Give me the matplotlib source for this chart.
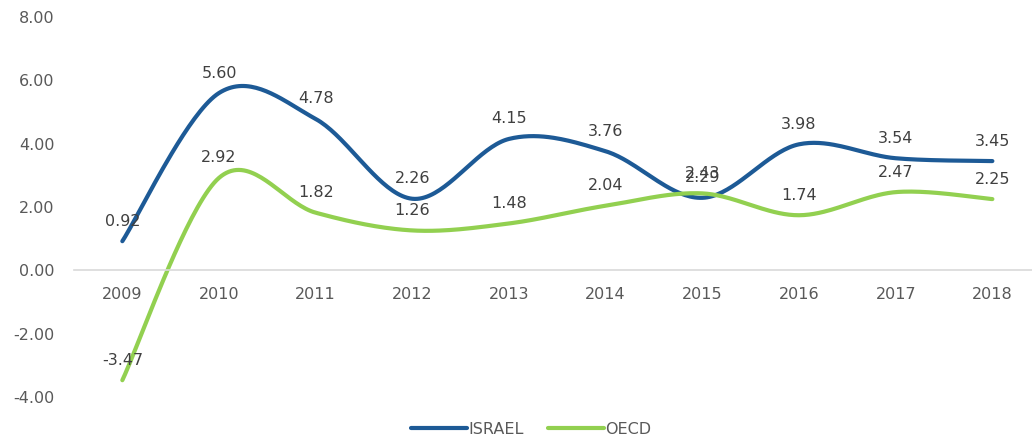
import numpy as np
import matplotlib
matplotlib.use("Agg")
import matplotlib.pyplot as plt

plt.rcParams["font.family"] = ["DejaVu Sans"]

years = ["2009", "2010", "2011", "2012", "2013", "2014", "2015", "2016", "2017", "2018"]
israel = [0.92, 5.60, 4.78, 2.26, 4.15, 3.76, 2.29, 3.98, 3.54, 3.45]
oecd = [-3.47, 2.92, 1.82, 1.26, 1.48, 2.04, 2.43, 1.74, 2.47, 2.25]

blue = "#1d5a96"
green = "#92d050"


def smooth(xs, ys, n=40):
    # excel-style smoothed line (catmull-rom as cubic bezier)
    pts = np.column_stack([xs, ys]).astype(float)
    p = np.vstack([pts[0], pts, pts[-1]])
    out = []
    t = np.linspace(0, 1, n)[:, None]
    for i in range(1, len(p) - 2):
        p0, p3 = p[i], p[i + 1]
        p1 = p0 + (p[i + 1] - p[i - 1]) / 6
        p2 = p3 - (p[i + 2] - p[i]) / 6
        seg = ((1 - t) ** 3) * p0 + 3 * ((1 - t) ** 2) * t * p1 + 3 * (1 - t) * t ** 2 * p2 + t ** 3 * p3
        out.append(seg)
    out = np.vstack(out)
    return out[:, 0], out[:, 1]


fig = plt.figure(figsize=(10.32, 4.38), dpi=100)
ax = fig.add_axes([74 / 1032, 1 - 397 / 438, (1032 - 74) / 1032, 380 / 438])

x = np.arange(len(years))
for vals, col, name in [(israel, blue, "ISRAEL"), (oecd, green, "OECD")]:
    sx, sy = smooth(x, vals)
    ax.plot(sx, sy, color=col, lw=3.0, solid_capstyle="round", label=name, clip_on=False)
    for xi, v in zip(x, vals):
        ax.annotate(f"{v:.2f}", (xi, v), xytext=(0, 9), textcoords="offset points",
                    ha="center", va="bottom", fontsize=11.5, color="#404040")

ax.set_xlim(-0.5, -0.5 + (1032 - 74) / 96.67)
ax.set_ylim(-4, 8)
ax.set_yticks([-4, -2, 0, 2, 4, 6, 8])
ax.set_yticklabels([f"{v:.2f}" for v in [-4, -2, 0, 2, 4, 6, 8]])
ax.set_xticks(x)
ax.set_xticklabels(years)

for s in ["top", "right", "left"]:
    ax.spines[s].set_visible(False)
ax.spines["bottom"].set_position(("data", 0))
ax.spines["bottom"].set_color("#d9d9d9")
ax.spines["bottom"].set_linewidth(1.2)
ax.tick_params(axis="both", length=0, labelsize=11.5, labelcolor="#595959")
ax.tick_params(axis="y", pad=14)
ax.tick_params(axis="x", pad=12)
ax.patch.set_alpha(0)

fig.legend(loc="lower center", bbox_to_anchor=(0.515, -0.03), ncol=2, frameon=False,
           fontsize=11.5, handlelength=3.5, handletextpad=0.1, columnspacing=1.5,
           labelcolor="#595959")

fig.savefig("out.png", dpi=100)
